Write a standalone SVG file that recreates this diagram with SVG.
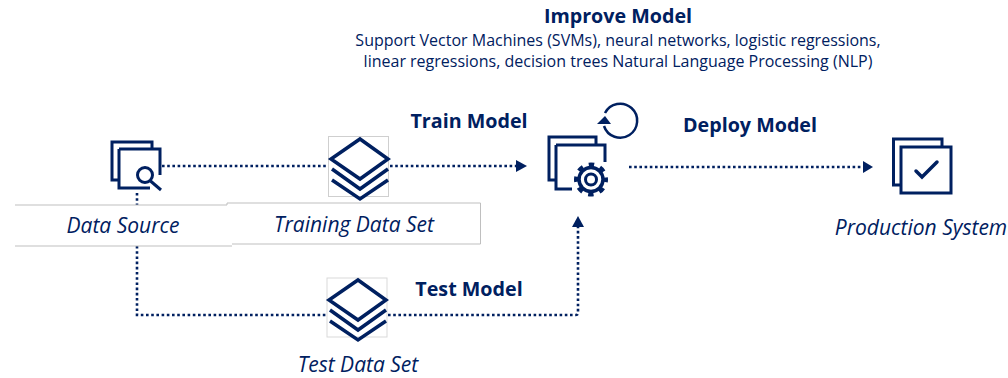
<svg xmlns="http://www.w3.org/2000/svg" width="1008" height="378" viewBox="0 0 1008 378">
<style>
text{font-family:"Open Sans","Noto Sans",sans-serif;fill:#002060}
.b{font-weight:700;font-size:19.700px}
.i{font-style:italic;font-size:21px}
.s{font-size:16px}
.ic{fill:none;stroke:#002060;stroke-width:3}
.st{fill:none;stroke:#002060;stroke-width:3.500}
.c{fill:none;stroke:#002060;stroke-width:2.600;stroke-dasharray:2.600 2.600}
.g{fill:none;stroke:#bfbfbf;stroke-width:1}
.a{fill:#002060}
</style>
<defs>
<g id="stack"><path class="st" d="M32 3L60 23L32 43L3 23Z"/><path class="st" d="M4 33L32 53L60 33M4 44L32 63L60 44"/></g>
</defs>
<g id="connectors">
<path class="c" d="M162 166H328M390 166H517"/><path class="a" d="M516 160L527 166L516 172Z"/>
<path class="c" d="M137 193V205M137 246V315H327M388 315H576Q578 315 578 313V226"/><path class="a" d="M572 227L578 216L584 227Z"/>
<path class="c" d="M629 167H864"/><path class="a" d="M863 161L873 167L863 173Z"/>
</g>
<g id="data-source"><path class="ic" d="M152 149V142H112V180H118"/><path class="ic" d="M119 149H160V175M119 149V188H150"/><circle cx="145" cy="175" r="7.500" fill="#fff" stroke="#002060" stroke-width="3"/><path class="ic" d="M150.500 181L161 190"/>
<path class="g" d="M15 205H227V203M15 246H232"/><text class="i" x="123" y="233" text-anchor="middle">Data Source</text></g>
<g id="training-data-set"><rect x="328.500" y="136.500" width="60" height="60" fill="#fff" stroke="#cfcfcf"/><use href="#stack" x="328" y="136"/>
<path class="g" d="M227 203H480.500V244H232"/><text class="i" x="354" y="232" text-anchor="middle">Training Data Set</text></g>
<g id="test-data-set"><rect x="327" y="278" width="60" height="59" fill="#fff" stroke="#d9d9d9"/><use href="#stack" x="326" y="277"/>
<text class="i" x="358" y="371.500" text-anchor="middle">Test Data Set</text></g>
<g id="model"><path class="ic" d="M596 144V137H549V180H555"/><path class="ic" d="M556 145H605V162M556 145V189H572"/>
<circle cx="591" cy="179.500" r="15" fill="none" stroke="#002060" stroke-width="4" stroke-dasharray="5.500 6.280" stroke-dashoffset="2.750"/><circle cx="591" cy="179.500" r="12" fill="#fff" stroke="#002060" stroke-width="3.500"/><circle cx="591" cy="179.500" r="5.500" fill="none" stroke="#002060" stroke-width="3"/>
<path fill="none" stroke="#002060" stroke-width="2.500" d="M605 113A17 17 0 1 1 604 126"/><path class="a" d="M597 124L611 124L605 116Z"/></g>
<g id="production-system"><path class="ic" d="M942 146V139H893.500V185H900"/><rect class="ic" x="901" y="147" width="50" height="46"/><path fill="none" stroke="#002060" stroke-width="3.500" stroke-linecap="round" d="M916 171L922 177L937 162"/>
<text class="i" x="921" y="235" text-anchor="middle">Production System</text></g>
<g id="labels">
<text class="b" x="618" y="23" text-anchor="middle">Improve Model</text>
<text class="s" x="618" y="46" text-anchor="middle">Support Vector Machines (SVMs), neural networks, logistic regressions,</text>
<text class="s" x="618" y="67" text-anchor="middle">linear regressions, decision trees Natural Language Processing (NLP)</text>
<text class="b" x="469" y="128" text-anchor="middle">Train Model</text>
<text class="b" x="750" y="132" text-anchor="middle">Deploy Model</text>
<text class="b" x="469" y="296" text-anchor="middle">Test Model</text>
</g>
</svg>
